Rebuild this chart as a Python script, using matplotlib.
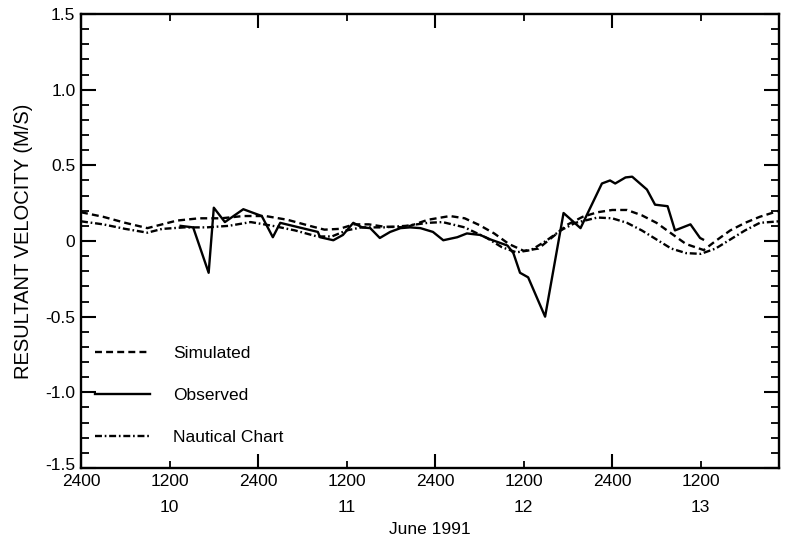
import matplotlib
matplotlib.use("Agg")
import matplotlib.pyplot as plt
from matplotlib.ticker import FixedLocator, MultipleLocator
from matplotlib.transforms import ScaledTranslation

# ---------------- data (hours after 2400 June 9, 1991) ----------------
sim_hours = [0, 3, 6, 9, 11, 13, 16, 19, 22, 25, 28, 31, 33, 35, 37, 39, 41, 44, 47,
             50, 52, 54, 56, 58, 60, 62, 64, 66, 68, 70, 72, 74, 76, 78, 80, 82, 84.4,
             86, 88, 90, 92, 94.6]
sim_vel = [0.19, 0.16, 0.12, 0.085, 0.11, 0.135, 0.15, 0.15, 0.165, 0.165, 0.14, 0.10,
           0.075, 0.08, 0.11, 0.11, 0.095, 0.09, 0.14, 0.165, 0.15, 0.105, 0.05, -0.02,
           -0.065, -0.05, 0.03, 0.11, 0.16, 0.19, 0.205, 0.205, 0.17, 0.12, 0.05, -0.02,
           -0.06, 0.0, 0.07, 0.12, 0.16, 0.20]

obs_hours = [13.5, 15.2, 17.3, 18.0, 19.5, 22.0, 24.5, 26.0, 27.0, 32.1, 32.4, 34.2,
             35.5, 36.9, 38.1, 39.2, 40.5, 41.9, 43.3, 44.6, 46.0, 47.7, 49.1, 51.0,
             52.3, 54.1, 55.5, 57.8, 58.6, 59.5, 60.6, 62.9, 65.4, 67.7, 70.6, 71.7,
             72.4, 73.8, 74.7, 76.7, 77.8, 79.5, 80.5, 82.6, 83.9, 84.3]
obs_vel = [0.10, 0.09, -0.21, 0.22, 0.125, 0.21, 0.165, 0.025, 0.12, 0.06, 0.025, 0.005,
           0.04, 0.12, 0.09, 0.085, 0.02, 0.06, 0.085, 0.09, 0.085, 0.06, 0.005, 0.025,
           0.05, 0.04, 0.01, -0.03, -0.08, -0.21, -0.24, -0.50, 0.185, 0.085, 0.38, 0.40,
           0.38, 0.42, 0.425, 0.34, 0.24, 0.23, 0.07, 0.11, 0.02, 0.01]

nau_hours = [0, 3, 6, 9, 11, 14, 17, 20, 23, 26, 29, 32, 34, 36, 38, 41, 44, 47, 49,
             52, 55, 57, 59, 61, 63, 65, 67, 70, 72, 74, 76, 78, 80, 82, 84, 86, 88,
             90, 92, 94.6]
nau_vel = [0.13, 0.11, 0.08, 0.055, 0.08, 0.09, 0.09, 0.10, 0.125, 0.10, 0.07, 0.03,
           0.03, 0.07, 0.09, 0.09, 0.10, 0.12, 0.125, 0.09, 0.02, -0.04, -0.075, -0.06,
           0.0, 0.07, 0.12, 0.155, 0.15, 0.12, 0.07, 0.01, -0.05, -0.08, -0.085, -0.05,
           0.01, 0.07, 0.12, 0.13]

x_major = [0, 24, 48, 72]
x_minor = [12, 36, 60, 84]
x_major_labels = ["2400", "2400", "2400", "2400"]
x_minor_labels = ["1200", "1200", "1200", "1200"]
day_labels = ["10", "11", "12", "13"]
y_ticks = [-1.5, -1.0, -0.5, 0, 0.5, 1.0, 1.5]
y_tick_labels = ["-1.5", "-1.0", "-0.5", "0", "0.5", "1.0", "1.5"]

# ---------------- style ----------------
plt.rcParams["font.family"] = ["Liberation Sans", "DejaVu Sans"]
plt.rcParams["lines.scale_dashes"] = False
fs = 12.5

fig = plt.figure(figsize=(7.88, 5.47), dpi=100)
W, H = 788, 547
left, right, top, bottom = 81, 779, 14, 468
ax = fig.add_axes([left / W, 1 - bottom / H, (right - left) / W, (bottom - top) / H])

lw = 1.7
ax.plot(sim_hours, sim_vel, color="black", lw=lw, dashes=(5, 3), label="Simulated")
ax.plot(obs_hours, obs_vel, color="black", lw=lw, label="Observed")
ax.plot(nau_hours, nau_vel, color="black", lw=lw, dashes=(5, 2, 1.2, 2), label="Nautical Chart")

ax.set_xlim(0, 94.6)
ax.set_ylim(-1.5, 1.5)

for s in ax.spines.values():
    s.set_linewidth(1.7)

# y ticks
ax.yaxis.set_major_locator(FixedLocator(y_ticks))
ax.set_yticklabels(y_tick_labels)
ax.yaxis.set_minor_locator(MultipleLocator(0.1))
ax.tick_params(axis="y", which="major", direction="in", length=11, width=1.5,
               left=True, right=True, labelsize=fs, pad=4)
ax.tick_params(axis="y", which="minor", direction="in", length=6, width=1.3,
               left=True, right=True)

# x ticks: 2400 as major (long), 1200 as minor (short)
ax.xaxis.set_major_locator(FixedLocator(x_major))
ax.set_xticklabels(x_major_labels)
ax.set_xticks(x_minor, labels=x_minor_labels, minor=True)
ax.tick_params(axis="x", which="major", direction="in", length=10, width=1.5,
               top=True, bottom=True, labelsize=fs, pad=4)
ax.tick_params(axis="x", which="minor", direction="in", length=5, width=1.3,
               top=True, bottom=True, labelsize=fs, pad=4)

# nudge the lowest y label up a little, as in the reference
lbl = ax.get_yticklabels()[0]
lbl.set_transform(lbl.get_transform() + ScaledTranslation(0, 4 / 100, fig.dpi_scale_trans))

# day labels under the 1200 ticks
for h, d in zip(x_minor, day_labels):
    ax.annotate(d, xy=(h, 0), xycoords=("data", "axes fraction"),
                xytext=(0, -39 * 0.72), textcoords="offset points",
                ha="center", va="center", fontsize=fs)
ax.annotate("June 1991", xy=(0.5, 0), xycoords="axes fraction",
            xytext=(0, -62 * 0.72), textcoords="offset points",
            ha="center", va="center", fontsize=fs)

ax.set_ylabel("RESULTANT VELOCITY (M/S)", fontsize=14.5)
ax.yaxis.set_label_coords(-(left - 33) / (right - left), 0.5)

fs_px = fs / 0.72
leg = ax.legend(loc="upper left",
                bbox_to_anchor=((95 - left) / (right - left), (bottom - 346) / (bottom - top)),
                frameon=False, fontsize=fs, handlelength=55 / fs_px,
                handletextpad=23 / fs_px, labelspacing=1.53,
                borderpad=0, borderaxespad=0)

fig.savefig("out.png", dpi=100)
